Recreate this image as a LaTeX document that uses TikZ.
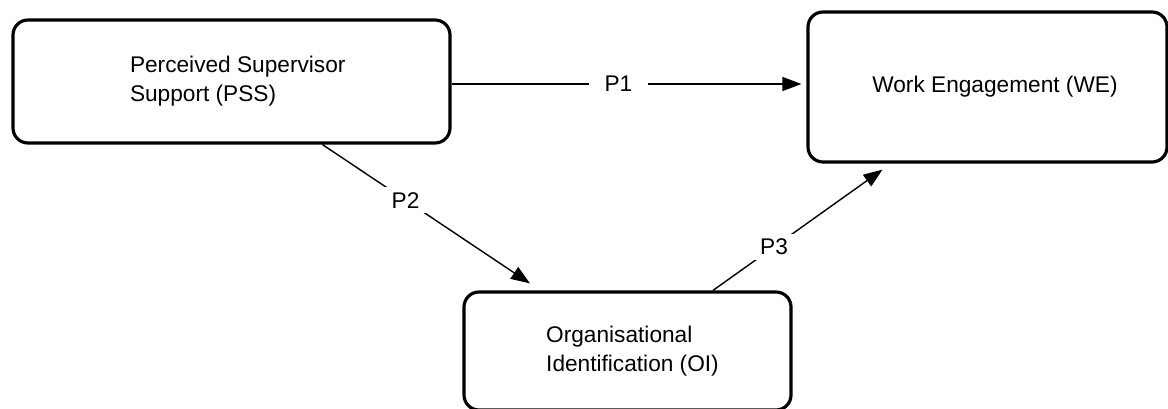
\documentclass[tikz,border=0pt]{standalone}
\usepackage{fontspec}
\setmainfont{Liberation Sans}
\usetikzlibrary{arrows.meta}
\begin{document}
\begin{tikzpicture}[
	box/.style={draw,line width=1.8pt,rounded corners=0.3cm,align=left,
		font=\fontsize{12.9}{16.5}\selectfont},
	arr/.style={line width=0.8pt,-{Triangle[length=0.38cm,width=0.28cm]}},
	lbl/.style={fill=white,inner xsep=0.32cm,inner ysep=0.1cm,
		font=\fontsize{12.9}{16.5}\selectfont}]
	\useasboundingbox (0,0) rectangle (23.36,-8.18);
	\path node (pss) at (4.63,-1.63) [box,minimum width=8.74cm,minimum height=2.46cm] {\hspace*{0.25cm}Perceived Supervisor\\\hspace*{0.25cm}Support (PSS)}
	node (we) at (19.75,-1.74) [box,minimum width=7.18cm,minimum height=3cm] {\hspace*{0.3cm}Work Engagement (WE)}
	node (oi) at (12.55,-7.02) [box,minimum width=6.54cm,minimum height=2.36cm] {\hspace*{0.2cm}Organisational\\\hspace*{0.2cm}Identification (OI)};
	\draw[arr,shorten >=0.1cm] ([yshift=-0.05cm]pss.east) -- ([yshift=-0.05cm]pss.east -| we.west)
		node[lbl,pos=0.47] {P1};
	\draw[arr] ([xshift=1.82cm]pss.south) -- ([xshift=-1.95cm,yshift=0.14cm]oi.north)
		node[lbl,pos=0.4] {P2};
	\draw[arr] ([xshift=1.71cm]oi.north) -- ([xshift=-2.1cm,yshift=-0.12cm]we.south)
		node[lbl,pos=0.36] {P3};
\end{tikzpicture}
\end{document}
